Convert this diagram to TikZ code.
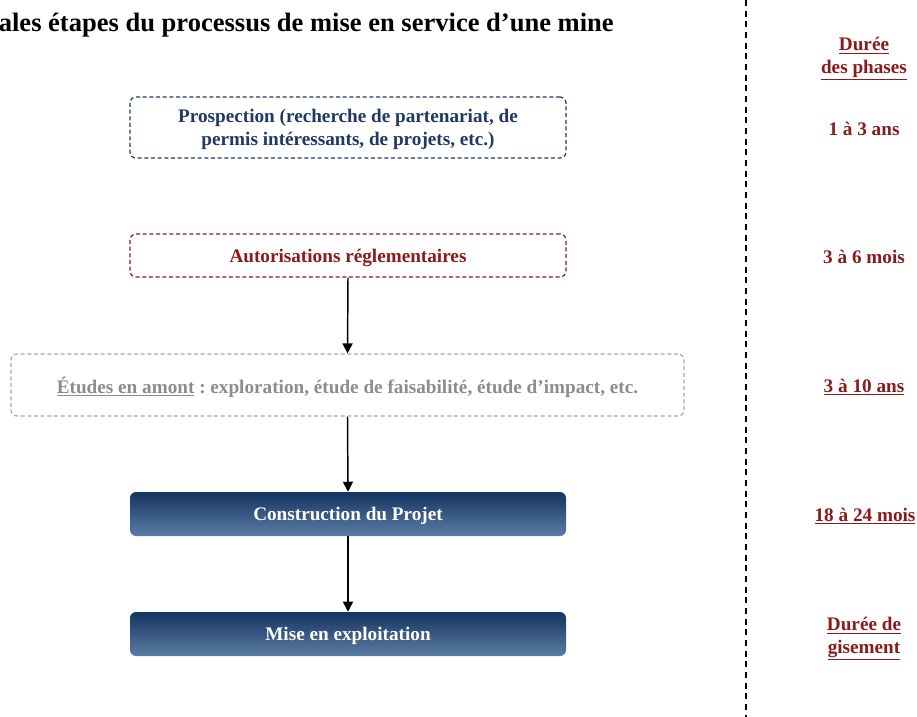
\documentclass[tikz,border=0pt]{standalone}
\usepackage{fontspec}
\setmainfont{Liberation Serif}
\usetikzlibrary{arrows.meta}
\newdimen\pxu \pxu=0.75pt
\definecolor{navy}{HTML}{1F3864}
\definecolor{darkred}{HTML}{8B1A1A}
\definecolor{grytxt}{HTML}{8C8C8C}
\definecolor{grybrd}{HTML}{A8A8A8}
\definecolor{gradtop}{HTML}{153462}
\definecolor{gradbot}{HTML}{5B7DA4}
\begin{document}
\frenchspacing
\begin{tikzpicture}[x=0.75pt,y=-0.75pt,
  txt/.style={font=\bfseries\fontsize{14.4}{17}\selectfont, align=center},
  dbox/.style={txt, rounded corners=4.5pt, line width=0.9pt, dash pattern=on 3pt off 2pt, inner sep=0pt, text depth=0pt},
  gbox/.style={txt, rounded corners=4.5pt, top color=gradtop, bottom color=gradbot, text=white, inner sep=0pt, text depth=0pt, minimum width=436\pxu, minimum height=44\pxu},
  arr/.style={-{Triangle[width=7.5pt,length=7.5pt]}, line width=1.1pt},
  dur/.style={txt, text=darkred},
  vline/.style={line width=0.8pt, dash pattern=on 4.5pt off 3.5pt}]
\path[use as bounding box] (0,0) rectangle (917,717);
\clip (0,0) rectangle (917,717);
% title
\node[anchor=base east, inner sep=0pt, font=\bfseries\fontsize{19.9}{24}\selectfont] (title) at (614,32) {Principales étapes du processus de mise en service d’une mine};
% boxes
\node[dbox, draw=navy, minimum width=436\pxu, minimum height=61\pxu] (b1) at (348,127.5) {};
\node[txt, text=navy, inner sep=0pt] (b1t) at (348,129.5) {Prospection (recherche de partenariat, de\\permis intéressants, de projets, etc.)};
\node[dbox, draw=darkred, text=darkred, minimum width=436\pxu, minimum height=43\pxu] (b2) at (348,255.5) {Autorisations réglementaires};
\node[dbox, draw=grybrd, text=grytxt, minimum width=673\pxu, minimum height=62\pxu] (b3) at (347.5,385) {\underline{Études en amont} : exploration, étude de faisabilité, étude d’impact, etc.};
\node[gbox] (b4) at (348,514) {Construction du Projet};
\node[gbox] (b5) at (348,634) {Mise en exploitation};
% arrows
\draw[arr] (b2.south) -- (b3.north);
\draw[arr] (b3.south) -- (b4.north);
\draw[arr] (b4.south) -- (b5.north);
% separator
\coordinate (vtop) at (746,0);
\coordinate (vbot) at (746,717);
\draw[vline] (vtop) -- (vbot);
% durations
\node[dur] (dh) at (864,59) {\underline{Durée}\\\underline{des phases}};
\node[dur, anchor=base] (d1) at (864,135) {1 à 3 ans};
\node[dur, anchor=base] (d2) at (864,263) {3 à 6 mois};
\node[dur, anchor=base] (d3) at (864,392) {\underline{3 à 10 ans}};
\node[dur, anchor=base] (d4) at (865,521) {\underline{18 à 24 mois}};
\node[dur] (d5) at (864,639) {\underline{Durée de}\\\underline{gisement}};
\end{tikzpicture}
\end{document}
